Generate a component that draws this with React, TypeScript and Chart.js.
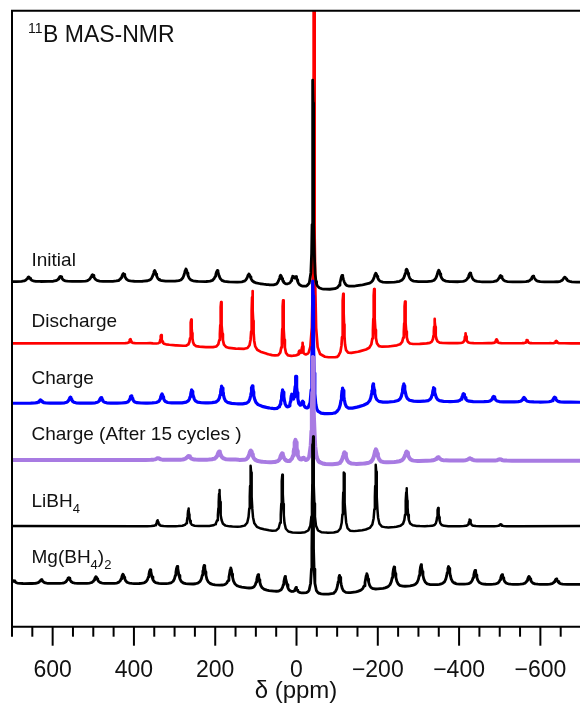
import React, { useEffect, useRef } from 'react';
import { Chart, registerables } from 'chart.js';

Chart.register(...registerables);

// ---------- DATA ----------
// x axis: chemical shift delta (ppm), reversed
const X_MAX = 700;
const X_MIN = -697.5;
const Y_MAX = 616;

const TICK_VALUES = [700, 650, 600, 550, 500, 450, 400, 350, 300, 250, 200, 150, 100, 50, 0,
  -50, -100, -150, -200, -250, -300, -350, -400, -450, -500, -550, -600, -650];
const MAJOR_TICKS = [600, 400, 200, 0, -200, -400, -600];

const SERIES_NAMES = ['Initial', 'Discharge', 'Charge', 'Charge (After 15 cycles )', 'LiBH4', 'Mg(BH4)2'];

// Baseline levels (stacked offsets) [ppm, level]
const INITIAL_BASELINE = [[700, 345], [300, 345], [200, 344.5], [120, 344], [60, 341], [40, 340], [20, 341], [-25, 338.5], [-48, 336.7], [-105, 336.7], [-120, 338.7], [-195, 343.4], [-270, 344.5], [-700, 344.5]];
const DISCHARGE_BASELINE = [[700, 283.4], [360, 283.4], [260, 280], [185, 278.7], [110, 276.7], [60, 271], [33, 269], [-10, 271], [-30, 268.7], [-100, 268.4], [-115, 271], [-191, 278.4], [-267, 281.7], [-340, 283.4], [-700, 283.4]];
const CHARGE_BASELINE = [[700, 223.4], [200, 223.4], [110, 221.7], [60, 217.5], [35, 215], [10, 216.7], [-15, 216.7], [-50, 211.7], [-95, 212.5], [-113, 215], [-189, 223.4], [-264, 225], [-700, 224.4]];
const AFTER15_BASELINE = [[700, 166.7], [150, 166.7], [110, 165], [40, 163.4], [-15, 163.4], [-50, 161.7], [-118, 161.7], [-195, 163], [-271, 165], [-350, 166], [-700, 166]];
const LIBH4_BASELINE = [[700, 100.7], [200, 100.3], [110, 99], [35, 93.4], [-117, 93.4], [-195, 97.7], [-271, 100.2], [-700, 100.7]];
const MG_BASELINE = [[700, 43], [500, 43], [360, 42.5], [230, 41.7], [160, 40], [95, 36.7], [28, 33.4], [0, 33.4], [-40, 31.7], [-106, 31.7], [-173, 35.7], [-240, 38.7], [-307, 40.7], [-374, 41.7], [-700, 42.2]];

// Peaks [ppm, height above baseline, half width (ppm)]
const INITIAL_PEAKS = [[659, 4.7, 5], [581, 5.3, 5], [502, 7, 5], [426, 8, 5], [349, 11, 5], [272, 12.7, 5], [195, 11.5, 5], [117, 8.7, 5], [39, 11, 5], [9, 8, 4], [1, 8, 4], [-40.5, 209, 1.5], [-112, 13.5, 5], [-195, 10, 5], [-271, 13, 5], [-350, 12, 5], [-427, 9, 5], [-502, 6.5, 5], [-582, 6, 5], [-660, 5, 5]];
const DISCHARGE_PEAKS = [[409, 4, 2], [333, 9, 2], [259, 27, 2], [185.5, 45.7, 2], [108.6, 59, 2], [33, 57, 2], [-7, 4, 1.5], [-15, 12, 1.5], [-43, 400, 1.5], [-115, 61.7, 2], [-191, 59, 2], [-267, 43.3, 2], [-340, 24.3, 2], [-416, 10, 2], [-492, 4, 2], [-567, 3.3, 2], [-639, 2.3, 2]];
const CHARGE_PEAKS = [[630, 3.3, 4], [556.5, 6, 4], [481, 5.6, 4], [406.6, 7.3, 4], [331, 9.3, 4], [257.5, 13.3, 4], [183.8, 17.3, 4], [108.6, 19, 4], [34, 21, 4], [11.8, 12.7, 3], [1.2, 31.7, 3], [-15.2, 6.7, 3], [-40.5, 132, 2], [-113.5, 23.4, 4], [-188.7, 19.3, 4], [-264, 17.7, 4], [-337.8, 14, 4], [-410.8, 8.3, 4], [-485, 5.6, 4], [-559.7, 4.6, 4], [-635, 5, 4]];
const AFTER15_PEAKS = [[341, 1.8, 5], [265.8, 4, 5], [190.4, 8.3, 5], [112.5, 11, 5], [35.6, 9.3, 5], [2.5, 22.6, 4], [-16.7, 3.3, 4], [-40.5, 107, 2.5], [-118, 12.5, 5], [-195.3, 14.4, 5], [-270.8, 10, 5], [-348.4, 3.4, 5], [-426.3, 2.4, 5], [-500, 1.4, 5]];
const LIBH4_PEAKS = [[342, 6, 2.5], [265.8, 17.7, 2.5], [189.7, 36.4, 2.5], [112.5, 61.7, 2.5], [35, 58.3, 2.5], [-41, 96.6, 2], [-116.7, 60.6, 2.5], [-195.3, 64, 2.5], [-270.8, 38.2, 2.5], [-348.4, 18.3, 2.5], [-426.3, 6.7, 2.5], [-501.7, 2, 2.5]];
const MG_PEAKS = [[695.8, 3, 4.5], [627.8, 4, 4.5], [560.7, 6, 4.5], [493.4, 7, 4.5], [427, 9.7, 4.5], [360, 14.2, 4.5], [293.6, 18, 4.5], [227.3, 19.3, 4.5], [161.7, 18.4, 4.5], [94.6, 15, 4.5], [27.8, 16.6, 4.5], [1.2, 5, 3], [-40, 150, 1.5], [-105.7, 19.3, 4.5], [-173, 17, 4.5], [-240, 20.7, 4.5], [-306.6, 21, 4.5], [-374, 18.3, 4.5], [-439.3, 14.3, 4.5], [-505.6, 10, 4.5], [-572, 8.3, 4.5], [-639, 5.5, 4.5]];

// ---------- STYLE ----------
const FONT = "'Liberation Sans', Arial, Helvetica, sans-serif";
const SERIES_COLORS = ['#000000', '#FF0000', '#0000FF', '#A87BE2', '#000000', '#000000'];
const LINE_WIDTHS = [2.8, 2.7, 3.2, 4, 2.5, 2.8];
const DRAW_ORDER = [0, 5, 4, 3, 2, 1];
const LABEL_LEVELS = [360.7, 299.7, 242.7, 186.7, 119.4, 63.4];
const LABEL_PARTS = [
  [{ t: 'Initial' }],
  [{ t: 'Discharge' }],
  [{ t: 'Charge' }],
  [{ t: 'Charge (After 15 cycles )' }],
  [{ t: 'LiBH' }, { t: '4', sub: true }],
  [{ t: 'Mg(BH' }, { t: '4', sub: true }, { t: ')' }, { t: '2', sub: true }],
];

const SHAPE_STEPS = [0, 0.35, 0.7, 1, 1.5, 2.2, 3.5, 6, 10, 18];

function baseAt(base: number[][], x: number) {
  for (let i = 0; i < base.length - 1; i++) {
    const [x0, y0] = base[i];
    const [x1, y1] = base[i + 1];
    if (x <= x0 && x >= x1) {
      const t = x0 === x1 ? 0 : (x0 - x) / (x0 - x1);
      return y0 + (y1 - y0) * t;
    }
  }
  return base[base.length - 1][1];
}

function buildSeries(base: number[][], peaks: number[][]) {
  const xs = new Set<number>();
  base.forEach(([p]) => xs.add(p));
  peaks.forEach(([p, , w]) => {
    SHAPE_STEPS.forEach((s) => {
      xs.add(+(p + s * w).toFixed(3));
      xs.add(+(p - s * w).toFixed(3));
    });
  });
  const arr = Array.from(xs).filter((x) => x <= 700 && x >= -700).sort((a, b) => b - a);
  return arr.map((x) => ({
    x,
    y: baseAt(base, x) + peaks.reduce((s, [p, h, w]) => s + h / (1 + ((x - p) / w) ** 2), 0),
  }));
}

const SPECTRA = [
  [INITIAL_BASELINE, INITIAL_PEAKS],
  [DISCHARGE_BASELINE, DISCHARGE_PEAKS],
  [CHARGE_BASELINE, CHARGE_PEAKS],
  [AFTER15_BASELINE, AFTER15_PEAKS],
  [LIBH4_BASELINE, LIBH4_PEAKS],
  [MG_BASELINE, MG_PEAKS],
];

function fmt(v: number) {
  return v < 0 ? '\u2212' + Math.abs(v) : String(v);
}

function drawRich(ctx: CanvasRenderingContext2D, parts: any[], x: number, y: number, size: number, subSize: number, subDy: number) {
  let cx = x;
  parts.forEach((p) => {
    const fs = p.sub ? subSize : size;
    ctx.font = `${fs}px ${FONT}`;
    ctx.fillText(p.t, cx, y + (p.sub ? subDy : 0));
    cx += ctx.measureText(p.t).width;
  });
}

const framePlugin = {
  id: 'nmrFrame',
  afterDraw(chart: any) {
    const { ctx, chartArea } = chart;
    const { left, top, right, bottom } = chartArea;
    const xs = chart.scales.x;
    const ys = chart.scales.y;
    ctx.save();
    ctx.strokeStyle = '#000';
    ctx.lineWidth = 2;
    ctx.lineCap = 'butt';
    ctx.beginPath();
    ctx.moveTo(left, bottom);
    ctx.lineTo(left, top - 1);
    ctx.moveTo(left - 1, top);
    ctx.lineTo(right + 2, top);
    ctx.moveTo(left - 1, bottom);
    ctx.lineTo(right + 2, bottom);
    ctx.stroke();
    TICK_VALUES.forEach((v) => {
      const px = xs.getPixelForValue(v);
      const len = MAJOR_TICKS.includes(v) ? 19 : 10;
      ctx.beginPath();
      ctx.moveTo(px, bottom);
      ctx.lineTo(px, bottom + len);
      ctx.stroke();
    });

    ctx.fillStyle = '#111';
    ctx.textBaseline = 'alphabetic';
    ctx.textAlign = 'left';
    LABEL_PARTS.forEach((parts, i) => {
      drawRich(ctx, parts, left + 19.5, ys.getPixelForValue(LABEL_LEVELS[i]), 19, 13, 5.5);
    });

    // title with superscript
    ctx.font = `14px ${FONT}`;
    ctx.fillText('11', left + 16, top + 22.6);
    const w = ctx.measureText('11').width;
    ctx.font = `23px ${FONT}`;
    ctx.fillText('B MAS-NMR', left + 16 + w + 0.5, top + 31.3);
    ctx.restore();
  },
};

export default function App() {
  const ref = useRef<HTMLCanvasElement | null>(null);
  useEffect(() => {
    if (!ref.current) return;
    const chart = new Chart(ref.current, {
      type: 'line',
      data: {
        datasets: SPECTRA.map(([b, p], i) => ({
          label: SERIES_NAMES[i],
          data: buildSeries(b as number[][], p as number[][]),
          borderColor: SERIES_COLORS[i],
          backgroundColor: SERIES_COLORS[i],
          borderWidth: LINE_WIDTHS[i],
          pointRadius: 0,
          tension: 0,
          fill: false,
          order: DRAW_ORDER[i],
          borderJoinStyle: 'round',
          borderCapStyle: 'round',
        })),
      },
      options: {
        responsive: false,
        animation: false,
        events: [],
        layout: { padding: { left: 12, top: 10.7, right: 0, bottom: 0 } },
        plugins: { legend: { display: false }, tooltip: { enabled: false } },
        scales: {
          x: {
            type: 'linear',
            reverse: true,
            min: X_MIN,
            max: X_MAX,
            afterBuildTicks: (s: any) => {
              s.ticks = TICK_VALUES.map((v) => ({ value: v }));
            },
            afterFit: (s: any) => {
              s.height = 84.3;
            },
            border: { display: false },
            grid: { display: true, drawOnChartArea: false, drawTicks: true, tickLength: 19, tickColor: 'rgba(0,0,0,0)' },
            ticks: {
              autoSkip: false,
              maxRotation: 0,
              minRotation: 0,
              padding: 11,
              color: '#111',
              font: { family: FONT, size: 23 },
              callback: (v: any) => (MAJOR_TICKS.includes(Number(v)) ? fmt(Number(v)) : ''),
            },
            title: {
              display: true,
              text: 'δ (ppm)',
              color: '#111',
              font: { family: FONT, size: 24 },
              padding: { top: 0, bottom: 5 },
            },
          },
          y: { display: false, min: 0, max: Y_MAX },
        },
      } as any,
      plugins: [framePlugin],
    });
    return () => chart.destroy();
  }, []);
  return (
    <canvas
      ref={ref}
      width={580}
      height={711}
      style={{ position: 'absolute', left: 0, top: 0, display: 'block' }}
    />
  );
}
